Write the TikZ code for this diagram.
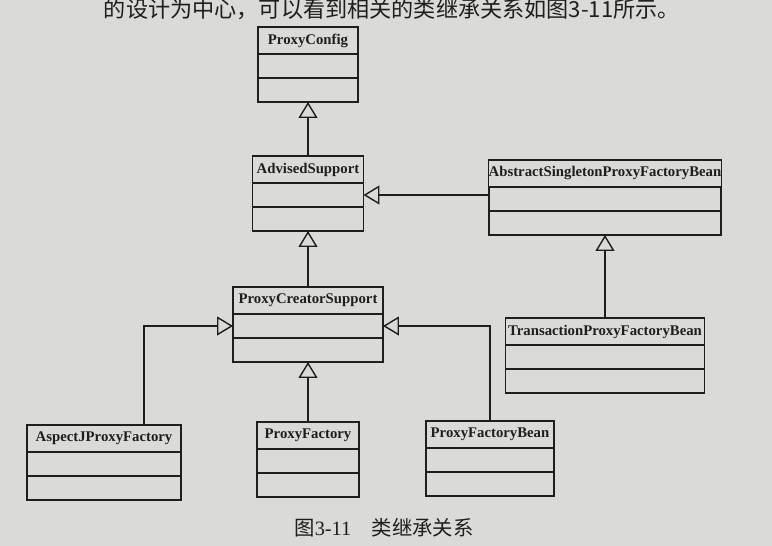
\documentclass[tikz,border=0pt]{standalone}
\usepackage{fontspec}
\setmainfont{Liberation Serif}
\newfontfamily\cjk{Noto Sans CJK SC}
\usetikzlibrary{positioning,arrows.meta}
\definecolor{paper}{RGB}{218,218,215}
\definecolor{ink}{RGB}{30,30,30}
\tikzset{
  hd/.style={rectangle, draw=ink, line width=0.85pt, inner sep=0pt, outer sep=0pt, minimum height=0.54cm, font=\fontsize{8.4}{10}\selectfont\bfseries, text=ink},
  cp/.style={rectangle, draw=ink, line width=0.85pt, inner sep=0pt, outer sep=0pt, minimum height=0.48cm},
  inh/.style={draw=ink, line width=0.8pt, -{Triangle[open, length=0.32cm, width=0.38cm, fill=paper]}},
  node distance=0pt
}

\begin{document}
\begin{tikzpicture}[x=0.02cm,y=-0.02cm]
	\fill[paper] (0,0) rectangle (772,546);
	\useasboundingbox (0,0) rectangle (772,546);
	\node[font=\cjk\fontsize{12.6}{15}\selectfont, text=ink, anchor=base east] (intro) at (686,18) {的设计为中心，可以看到相关的类继承关系如图3-11所示。};
	% classes
	\node[hd, minimum width=2cm] (pc) at (308,40.5) {ProxyConfig};
	\node[cp, minimum width=2cm, below=of pc] (pc-a) {};
	\node[cp, minimum width=2cm, below=of pc-a] (pc-m) {};
	\node[hd, minimum width=2.22cm] (as) at (308,169.5) {AdvisedSupport};
	\node[cp, minimum width=2.22cm, below=of as] (as-a) {};
	\node[cp, minimum width=2.22cm, below=of as-a] (as-m) {};
	\node[hd, minimum width=4.64cm] (aspfb) at (605,173.5) {AbstractSingletonProxyFactoryBean};
	\node[cp, minimum width=4.64cm, below=of aspfb] (aspfb-a) {};
	\node[cp, minimum width=4.64cm, below=of aspfb-a] (aspfb-m) {};
	\node[hd, minimum width=3cm] (pcs) at (308,300.5) {ProxyCreatorSupport};
	\node[cp, minimum width=3cm, below=of pcs] (pcs-a) {};
	\node[cp, minimum width=3cm, below=of pcs-a] (pcs-m) {};
	\node[hd, minimum width=3.98cm] (tpfb) at (605,331.5) {TransactionProxyFactoryBean};
	\node[cp, minimum width=3.98cm, below=of tpfb] (tpfb-a) {};
	\node[cp, minimum width=3.98cm, below=of tpfb-a] (tpfb-m) {};
	\node[hd, minimum width=3.08cm] (aj) at (104,438.5) {AspectJProxyFactory};
	\node[cp, minimum width=3.08cm, below=of aj] (aj-a) {};
	\node[cp, minimum width=3.08cm, below=of aj-a] (aj-m) {};
	\node[hd, minimum width=2.04cm] (pf) at (308,435.5) {ProxyFactory};
	\node[cp, minimum width=2.04cm, below=of pf] (pf-a) {};
	\node[cp, minimum width=2.04cm, below=of pf-a] (pf-m) {};
	\node[hd, minimum width=2.56cm] (pfb) at (490,434.5) {ProxyFactoryBean};
	\node[cp, minimum width=2.56cm, below=of pfb] (pfb-a) {};
	\node[cp, minimum width=2.56cm, below=of pfb-a] (pfb-m) {};
	% inheritance
	\draw[inh] (as.north) -- (pc-m.south);
	\draw[inh] (aspfb-a.west |- as-a.east) -- (as-a.east);
	\draw[inh] (pcs.north) -- (as-m.south);
	\draw[inh] (tpfb.north) -- (aspfb-m.south);
	\draw[inh] ([xshift=0.8cm]aj.north) |- (pcs-a.west);
	\draw[inh] (pfb.north) |- (pcs-a.east);
	\draw[inh] (pf.north) -- (pcs-m.south);
	\node[font=\fontsize{11.6}{13}\selectfont, text=ink] (cap) at (384,528) {{\cjk 图}3-11\quad{\cjk 类继承关系}};
\end{tikzpicture}
\end{document}
